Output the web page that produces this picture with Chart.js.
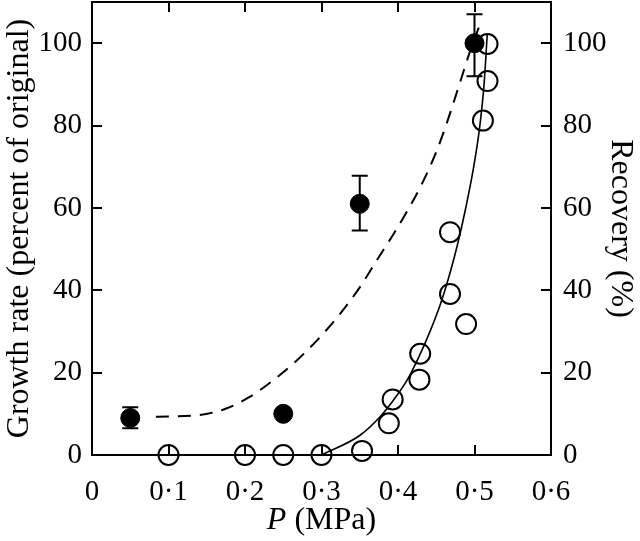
<!DOCTYPE html>
<html>
<head>
<meta charset="utf-8">
<script src="https://cdn.jsdelivr.net/npm/chart.js@4/dist/chart.umd.min.js"></script>
<style>
  html, body { margin: 0; padding: 0; background: #fff; }
  #wrap { width: 640px; height: 541px; }
</style>
</head>
<body>
<div id="wrap"><canvas id="chart"></canvas></div>
<script>
// growth rate (filled circles, left axis)
const growthP = [0.05, 0.25, 0.35, 0.5]
const growthRate = [9, 10, 61, 100]
const growthLow = [6.5, 10, 54.5, 92]
const growthHigh = [11.6, 10, 67.8, 107]

// recovery (open circles, right axis)
const recoveryP = [0.1, 0.2, 0.25, 0.3, 0.353, 0.388, 0.393, 0.428, 0.429, 0.468, 0.468, 0.489, 0.511, 0.517, 0.517]
const recovery = [0, 0, 0, 0, 1, 7.7, 13.5, 18.3, 24.6, 39.1, 54.1, 31.8, 81.2, 90.8, 99.8]

// fitted curves
const dashedP = [0.0835, 0.14, 0.1755, 0.206, 0.2366, 0.2673, 0.298, 0.324, 0.350, 0.372, 0.394, 0.412, 0.429, 0.443, 0.456, 0.469, 0.482, 0.495, 0.506]
const dashedY = [9.3, 9.7, 11.3, 14.1, 18.1, 22.9, 28.6, 34.2, 40.7, 47.2, 53.6, 59.2, 65, 70.5, 76.5, 83.5, 91, 98.5, 104]
const solidP = [0.30, 0.3504, 0.3766, 0.394, 0.4117, 0.427, 0.4423, 0.4554, 0.4663, 0.477, 0.488, 0.499, 0.507, 0.5125, 0.5166]
const solidY = [0, 4.8, 9.3, 13.3, 18.1, 23.7, 30.2, 36.6, 43.1, 50.5, 59.5, 70, 80, 90, 102]

const xTicks = [0, 0.1, 0.2, 0.3, 0.4, 0.5, 0.6]
const yTicks = [0, 20, 40, 60, 80, 100]

const FONT = "'Liberation Serif', 'DejaVu Serif', serif"
const TICK_SIZE = 29
const TITLE_SIZE = 32

function pts(xs, ys) {
    return xs.map((x, i) => ({x: x, y: ys[i]}))
}

function noPad(s) {
    s.paddingTop = 0
    s.paddingBottom = 0
    s.paddingLeft = 0
    s.paddingRight = 0
}

// inward ticks, error bars and the italic axis title
const extras = {
    id: 'extras',
    afterDatasetsDraw(chart) {
        const ctx = chart.ctx
        const a = chart.chartArea
        const xs = chart.scales.x
        const ys = chart.scales.y
        const tick = 10
        ctx.save()
        ctx.strokeStyle = '#000'
        ctx.lineWidth = 2
        ctx.beginPath()
        xTicks.forEach(v => {
            const px = Math.round(xs.getPixelForValue(v))
            if (v === 0 || v === 0.6) return
            ctx.moveTo(px, a.bottom); ctx.lineTo(px, a.bottom - tick)
            ctx.moveTo(px, a.top); ctx.lineTo(px, a.top + tick)
        })
        yTicks.forEach(v => {
            const py = Math.round(ys.getPixelForValue(v))
            if (v === 0) return
            ctx.moveTo(a.left, py); ctx.lineTo(a.left + tick, py)
            ctx.moveTo(a.right, py); ctx.lineTo(a.right - tick, py)
        })
        ctx.stroke()

        // error bars on growth rate
        ctx.beginPath()
        growthP.forEach((p, i) => {
            if (growthLow[i] === growthHigh[i]) return
            const px = xs.getPixelForValue(p)
            const lo = ys.getPixelForValue(growthLow[i])
            const hi = ys.getPixelForValue(growthHigh[i])
            ctx.moveTo(px, lo); ctx.lineTo(px, hi)
            ctx.moveTo(px - 8, lo); ctx.lineTo(px + 8, lo)
            ctx.moveTo(px - 8, hi); ctx.lineTo(px + 8, hi)
        })
        ctx.stroke()

        // frame
        ctx.strokeRect(a.left, a.top, a.right - a.left, a.bottom - a.top)

        // x title: italic P
        ctx.fillStyle = '#000'
        ctx.textBaseline = 'middle'
        const cx = (a.left + a.right) / 2
        const ty = 521
        ctx.font = 'italic ' + TITLE_SIZE + 'px ' + FONT
        const w1 = ctx.measureText('P').width
        ctx.font = TITLE_SIZE + 'px ' + FONT
        const w2 = ctx.measureText(' (MPa)').width
        const x0 = cx - (w1 + w2) / 2
        ctx.textAlign = 'left'
        ctx.font = 'italic ' + TITLE_SIZE + 'px ' + FONT
        ctx.fillText('P', x0, ty)
        ctx.font = TITLE_SIZE + 'px ' + FONT
        ctx.fillText(' (MPa)', x0 + w1, ty)
        ctx.restore()
    }
}

const ctx = document.getElementById('chart').getContext('2d')
const chart = new Chart(ctx, {
    type: 'scatter',
    data: {
        datasets: [
            {
                label: 'Growth fit',
                data: pts(dashedP, dashedY),
                showLine: true,
                borderColor: '#000',
                borderWidth: 2,
                borderDash: [13, 9],
                pointRadius: 0,
                cubicInterpolationMode: 'monotone',
                yAxisID: 'y'
            },
            {
                label: 'Recovery fit',
                data: pts(solidP, solidY),
                showLine: true,
                borderColor: '#000',
                borderWidth: 1.6,
                pointRadius: 0,
                cubicInterpolationMode: 'monotone',
                yAxisID: 'y2'
            },
            {
                label: 'Recovery',
                data: pts(recoveryP, recovery),
                pointRadius: 10,
                pointBorderWidth: 2,
                pointBorderColor: '#000',
                pointBackgroundColor: 'rgba(255,255,255,0)',
                yAxisID: 'y2',
                clip: false
            },
            {
                label: 'Growth rate',
                data: pts(growthP, growthRate),
                pointRadius: 9.5,
                pointBorderWidth: 1,
                pointBorderColor: '#000',
                pointBackgroundColor: '#000',
                yAxisID: 'y',
                clip: false
            }
        ]
    },
    options: {
        responsive: true,
        maintainAspectRatio: false,
        animation: false,
        layout: { autoPadding: false, padding: { top: 2, left: 0, right: 0, bottom: 0 } },
        plugins: {
            legend: { display: false },
            tooltip: { enabled: false }
        },
        scales: {
            x: {
                type: 'linear',
                position: 'bottom',
                min: 0,
                max: 0.6,
                afterBuildTicks: s => { s.ticks = xTicks.map(v => ({value: v})) },
                ticks: {
                    color: '#000',
                    font: { family: FONT, size: TICK_SIZE },
                    padding: 20,
                    maxRotation: 0,
                    callback: v => v === 0 ? '0' : v.toFixed(1).replace('.', '·')
                },
                grid: { display: false, drawTicks: false },
                border: { display: false },
                afterFit: s => { s.height = 86; noPad(s) }
            },
            y: {
                type: 'linear',
                position: 'left',
                min: 0,
                max: 110,
                afterBuildTicks: s => { s.ticks = yTicks.map(v => ({value: v})) },
                ticks: {
                    color: '#000',
                    font: { family: FONT, size: TICK_SIZE },
                    padding: 10
                },
                grid: { display: false, drawTicks: false },
                border: { display: false },
                title: {
                    display: true,
                    text: 'Growth rate (percent of original)',
                    color: '#000',
                    font: { family: FONT, size: TITLE_SIZE },
                    padding: { top: 0, bottom: 0 }
                },
                afterFit: s => { s.width = 92; noPad(s) }
            },
            y2: {
                type: 'linear',
                position: 'right',
                min: 0,
                max: 110,
                afterBuildTicks: s => { s.ticks = yTicks.map(v => ({value: v})) },
                ticks: {
                    color: '#000',
                    font: { family: FONT, size: TICK_SIZE },
                    padding: 12
                },
                grid: { display: false, drawTicks: false },
                border: { display: false },
                title: {
                    display: true,
                    text: 'Recovery (%)',
                    color: '#000',
                    font: { family: FONT, size: TITLE_SIZE },
                    padding: { top: 0, bottom: 0 }
                },
                afterFit: s => { s.width = 89; noPad(s) }
            }
        }
    },
    plugins: [extras]
})
</script>
</body>
</html>
